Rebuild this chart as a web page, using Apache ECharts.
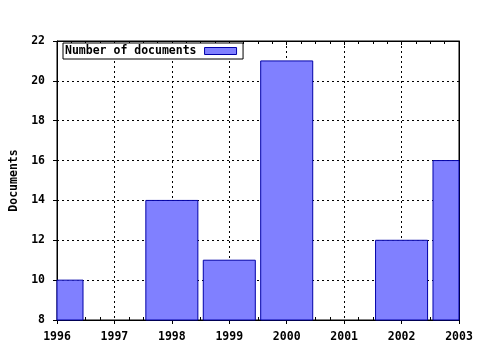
<!DOCTYPE html>
<html>
<head>
<meta charset="utf-8">
<script src="https://cdn.jsdelivr.net/npm/echarts@6/dist/echarts.min.js"></script>
<style>html,body{margin:0;padding:0;background:#fff}#c{width:480px;height:350px}</style>
</head>
<body>
<div id="c"></div>
<script>
var years = [1996, 1997, 1998, 1999, 2000, 2001, 2002, 2003];
var documents = [10, null, 14, 11, 21, null, 12, 16];
var seriesName = 'Number of documents';
var yAxisName = 'Documents';

var FONT = 'DejaVu Sans Mono';
var data = years.map(function (y, i) { return [y, documents[i]]; }).filter(function (d) { return d[1] !== null; });

var chart = echarts.init(document.getElementById('c'), null, { renderer: 'canvas' });
var baseX = { type: 'value', min: 1996, max: 2003, interval: 1 };
var baseY = { type: 'value', min: 8, max: 22, interval: 2 };

function renderBar(params, api) {
  var x = api.value(0), v = api.value(1);
  var top = api.coord([x, v]);
  var bottom = api.coord([x, 8]);
  var w = api.size([1, 0])[0] * 0.906;
  var cs = params.coordSys;
  var rect = echarts.graphic.clipRectByRect(
    { x: top[0] - w / 2, y: top[1], width: w, height: bottom[1] - top[1] },
    { x: cs.x, y: cs.y, width: cs.width, height: cs.height }
  );
  if (!rect) return;
  return {
    type: 'rect',
    shape: rect,
    style: { fill: '#8080ff', stroke: '#0000a8', lineWidth: 1 }
  };
}

chart.setOption({
  animation: false,
  backgroundColor: '#fff',
  grid: { left: 57, right: 21, top: 41, bottom: 30, show: true, borderColor: '#000', borderWidth: 1, backgroundColor: 'transparent' },
  legend: {
    show: true, left: 63, top: 43, align: 'right', orient: 'horizontal',
    padding: [2, 6, 2, 2], borderColor: '#000', borderWidth: 1, backgroundColor: '#fff', borderRadius: 0,
    itemWidth: 32, itemHeight: 7, icon: 'rect',
    itemStyle: { color: '#8080ff', borderColor: '#0000a8', borderWidth: 1 },
    textStyle: { fontFamily: FONT, fontWeight: 'bold', fontSize: 11.5, color: '#000', padding: [0, 3, 0, 0] },
    data: [seriesName]
  },
  xAxis: [
    Object.assign({}, baseX, {
      position: 'bottom',
      axisLine: { show: true, lineStyle: { color: '#000' } },
      axisTick: { show: true, inside: false, length: 4, lineStyle: { color: '#000' } },
      axisLabel: { show: true, margin: 11, color: '#000', fontFamily: FONT, fontWeight: 'bold', fontSize: 11.5, formatter: function (v) { return String(v); } },
      splitLine: { show: true, lineStyle: { color: '#000', type: [2, 3], width: 1 } }
    }),
    Object.assign({}, baseX, {
      position: 'bottom',
      axisLine: { show: false },
      axisTick: { show: false, inside: true },
      minorTick: { show: true, splitNumber: 4, length: 3, lineStyle: { color: '#000' } },
      axisLabel: { show: false },
      splitLine: { show: false }
    }),
    Object.assign({}, baseX, {
      position: 'top',
      axisLine: { show: true, lineStyle: { color: '#000' } },
      axisTick: { show: true, inside: true, length: 4, lineStyle: { color: '#000' } },
      minorTick: { show: true, splitNumber: 4, length: 3, lineStyle: { color: '#000' } },
      axisLabel: { show: false },
      splitLine: { show: false }
    })
  ],
  yAxis: [
    Object.assign({}, baseY, {
      position: 'left',
      name: yAxisName, nameLocation: 'middle', nameGap: 35, nameRotate: 90,
      nameTextStyle: { fontFamily: FONT, fontWeight: 'bold', fontSize: 11.5, color: '#000' },
      axisLine: { show: true, lineStyle: { color: '#000' } },
      axisTick: { show: true, inside: false, length: 4, lineStyle: { color: '#000' } },
      axisLabel: { show: true, margin: 12, color: '#000', fontFamily: FONT, fontWeight: 'bold', fontSize: 11.5 },
      splitLine: { show: true, lineStyle: { color: '#000', type: [2, 3], width: 1 } }
    }),
    Object.assign({}, baseY, {
      position: 'right',
      axisLine: { show: true, lineStyle: { color: '#000' } },
      axisTick: { show: false },
      axisLabel: { show: false },
      splitLine: { show: false }
    })
  ],
  series: [{
    name: seriesName,
    type: 'custom',
    xAxisIndex: 0, yAxisIndex: 0,
    z: 3,
    itemStyle: { color: '#8080ff', borderColor: '#0000a8', borderWidth: 1 },
    renderItem: renderBar,
    encode: { x: 0, y: 1 },
    data: data
  }]
});
</script>
</body>
</html>
